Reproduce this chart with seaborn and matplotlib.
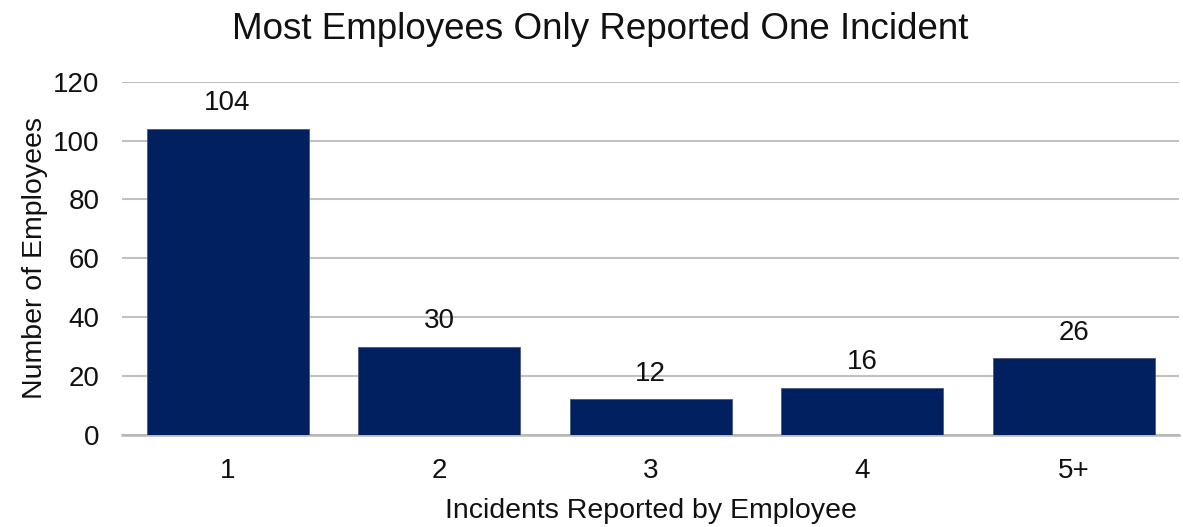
import matplotlib
matplotlib.use("Agg")
import matplotlib.pyplot as plt
import seaborn as sns
import pandas as pd

# data
categories = ["1", "2", "3", "4", "5+"]
employees = [104, 30, 12, 16, 26]

df = pd.DataFrame({"incidents": categories, "employees": employees})

sns.set_theme(style="white")
plt.rcParams["font.family"] = ["Liberation Sans", "DejaVu Sans"]

fig = plt.figure(figsize=(11.83, 5.27), dpi=100)
ax = fig.add_axes([0.103, 0.175, 0.894, 0.67])

sns.barplot(data=df, x="incidents", y="employees", color="#002060",
            saturation=1, width=0.765, edgecolor="#4a5a80", linewidth=0.6,
            ax=ax, zorder=3)

for i, v in enumerate(employees):
    ax.annotate(str(v), (i, v), xytext=(0, 9), textcoords="offset points",
                ha="center", va="bottom", fontsize=20, color="#111111")

ax.set_ylim(0, 120)
ax.set_yticks(range(0, 121, 20))
ax.yaxis.grid(True, color="#c0c0c0", linewidth=1.5, zorder=0)
ax.set_axisbelow(True)
for s in ["top", "right", "left"]:
    ax.spines[s].set_visible(False)
ax.spines["bottom"].set_color("#b8b8b8")
ax.spines["bottom"].set_linewidth(1.8)
ax.tick_params(axis="both", labelsize=20, colors="#111111", length=0)
ax.tick_params(axis="x", pad=17)
ax.tick_params(axis="y", pad=16)

ax.set_xlabel("Incidents Reported by Employee", fontsize=20.5, color="#111111", labelpad=10)
ax.set_ylabel("Number of Employees", fontsize=20.5, color="#111111", labelpad=4)
fig.suptitle("Most Employees Only Reported One Incident", fontsize=26.5, color="#111111",
             x=0.507, y=0.978)

fig.savefig("out.png", dpi=100)
